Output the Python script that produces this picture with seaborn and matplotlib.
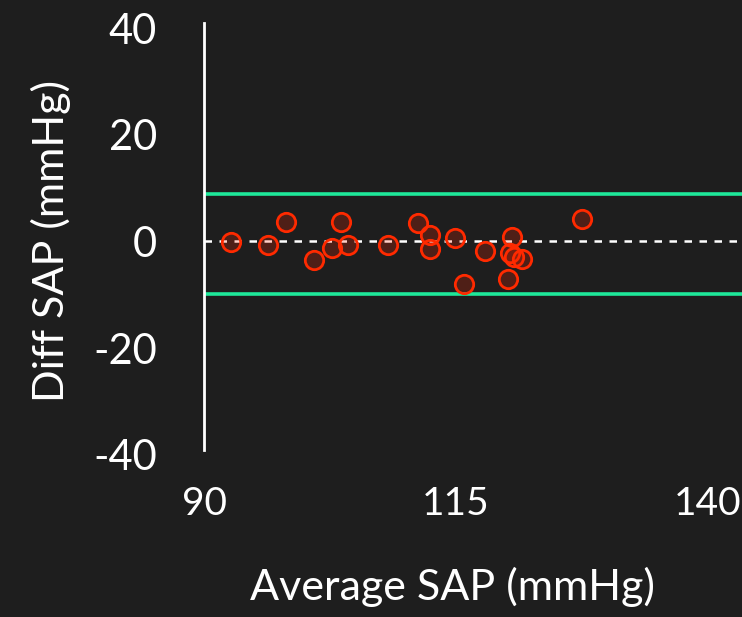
import matplotlib
matplotlib.use("Agg")
import matplotlib.pyplot as plt
import seaborn as sns
import pandas as pd

# Bland-Altman data: mean of the two SAP readings vs their difference
avg_sap = [92.7, 96.3, 98.1, 100.9, 102.7, 103.6, 104.3, 108.3, 111.2, 112.4,
           112.4, 114.9, 115.8, 117.9, 120.2, 120.6, 120.4, 120.8, 121.6, 127.5]
diff_sap = [-0.1, -0.7, 3.6, -3.4, -1.2, 3.6, -0.6, -0.6, 3.5, 1.2,
            -1.4, 0.7, -7.9, -1.7, -7.1, 0.75, -2.1, -2.9, -3.2, 4.2]
upper_loa = 8.9
lower_loa = -9.8
mean_diff = 0.0

x_ticks = [90, 115, 140]
y_ticks = [-40, -20, 0, 20, 40]

bg = "#1e1e1e"
sns.set_theme(style="dark")
plt.rcParams["font.family"] = ["Lato", "DejaVu Sans"]
plt.rcParams["axes.unicode_minus"] = False

df = pd.DataFrame({"avg": avg_sap, "diff": diff_sap})

fig = plt.figure(figsize=(7.42, 6.17), dpi=100, facecolor=bg)
ax = fig.add_axes([0.275, 0.2626, 0.725, 0.692])
ax.set_facecolor(bg)

ax.axhline(upper_loa, color="#1ee89a", lw=2.6, zorder=1)
ax.axhline(lower_loa, color="#1ee89a", lw=2.6, zorder=1)
ax.axhline(mean_diff, color="white", lw=1.8, ls=(0, (3, 3)), zorder=1)

sns.scatterplot(data=df, x="avg", y="diff", ax=ax, s=175,
                facecolor=(1.0, 0.15, 0.0, 0.22), edgecolor="#ff2a00",
                linewidth=2.0, zorder=3)

ax.set_xlim(90, 143.4)
ax.set_ylim(-40, 40)
ax.set_xticks(x_ticks)
ax.set_yticks(y_ticks)
ax.grid(False)
for side in ["top", "right", "bottom"]:
    ax.spines[side].set_visible(False)
ax.spines["left"].set_visible(True)
ax.spines["left"].set_color("white")
ax.spines["left"].set_linewidth(2)
ax.spines["left"].set_bounds(-39, 41)

ax.tick_params(axis="both", length=0, colors="white")
ax.tick_params(axis="y", pad=34, labelsize=30)
ax.tick_params(axis="x", pad=22, labelsize=28)

ax.set_xlabel("Average SAP (mmHg)", color="white", fontsize=31)
ax.xaxis.set_label_coords(0.461, -0.262)
ax.set_ylabel("Diff SAP (mmHg)", color="white", fontsize=31, labelpad=16)

fig.savefig("out.png", dpi=100, facecolor=bg)
